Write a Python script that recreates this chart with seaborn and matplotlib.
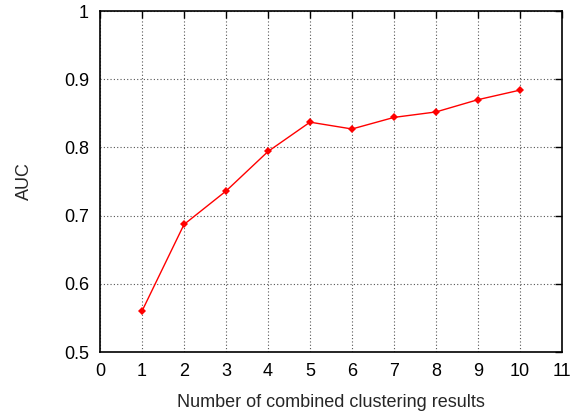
import matplotlib
matplotlib.use("Agg")
import matplotlib.pyplot as plt
import seaborn as sns
import pandas as pd

num_combined = [1, 2, 3, 4, 5, 6, 7, 8, 9, 10]
auc = [0.560, 0.687, 0.736, 0.794, 0.837, 0.827, 0.844, 0.852, 0.870, 0.884]
x_ticks = list(range(0, 12))
y_ticks = [0.5, 0.6, 0.7, 0.8, 0.9, 1.0]
y_tick_labels = ["0.5", "0.6", "0.7", "0.8", "0.9", "1"]

sns.set_style("white")
plt.rcParams["font.family"] = ["Liberation Sans", "DejaVu Sans"]

df = pd.DataFrame({"n": num_combined, "auc": auc})

fig = plt.figure(figsize=(5.87, 4.11), dpi=100)
ax = fig.add_axes([100 / 587, 1 - 352 / 411, 462 / 587, 341 / 411])

sns.lineplot(data=df, x="n", y="auc", ax=ax, color="#ff0000", linewidth=1.0,
             marker="D", markersize=4, markeredgewidth=0, zorder=3)

ax.set_xlim(0, 11)
ax.set_ylim(0.5, 1.0)
ax.set_xticks(x_ticks)
ax.set_yticks(y_ticks)
ax.set_yticklabels(y_tick_labels)
ax.grid(True, linestyle=(0, (1, 2)), color="#555555", linewidth=0.8)
ax.tick_params(direction="in", length=5, width=1, top=True, right=True,
               labelsize=13, pad=8, colors="black")
for s in ax.spines.values():
    s.set_color("black")
    s.set_linewidth(1.2)
ax.set_xlabel("Number of combined clustering results", fontsize=13, labelpad=10)
ax.set_ylabel("AUC", fontsize=13, labelpad=22)

fig.savefig("out.png", dpi=100)
